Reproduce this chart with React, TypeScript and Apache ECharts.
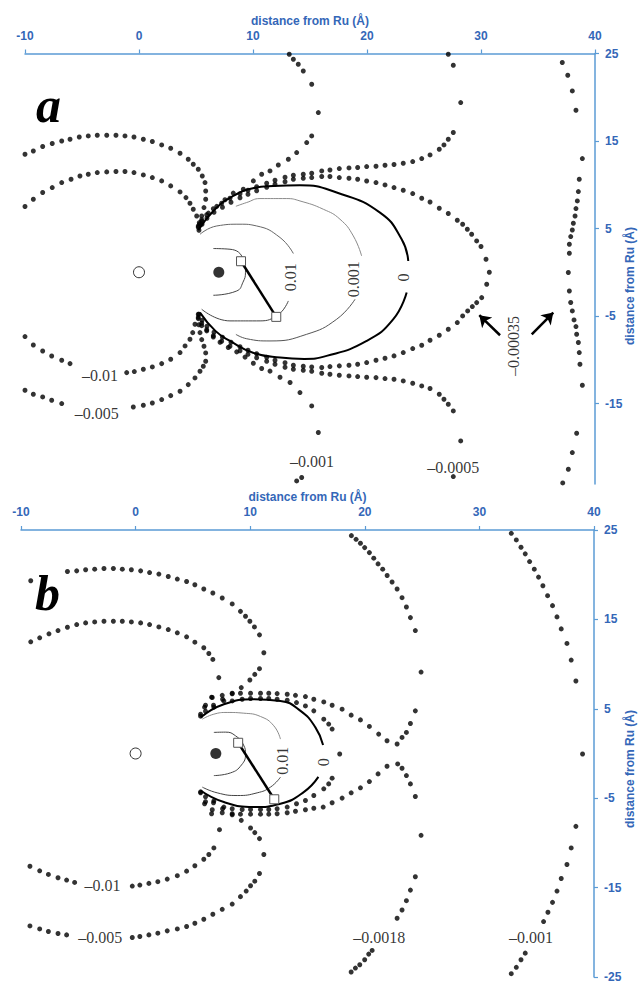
import React, { useEffect, useRef } from "react";
import * as echarts from "echarts";

// ---------- axes ----------
const X_TICKS = [-10, 0, 10, 20, 30, 40];
const Y_TICKS_A = [25, 15, 5, -5, -15];
const Y_TICKS_B = [25, 15, 5, -5, -15, -25];
const AXIS_NAME = "distance from Ru (Å)";

// ---------- panel a : atoms and bond ----------
const aRu = [[0, 0]];
const aAtom = [[7, 0]];
const aBond = [[8.95, 1.26], [12.04, -5.1]];

// ---------- panel a : solid contours ----------
const aC0Top = [[5.2, 4.8], [6.67, 7.2], [8.27, 8.72], [10.0, 9.6], [11.78, 9.86], [14.12, 9.94], [17.34, 9.11], [21.14, 6.82], [23.04, 3.77], [23.62, 1.29]];
const aC0Bottom = [[23.48, -2.32], [22.31, -5.37], [19.97, -7.85], [16.46, -9.56], [14.5, -9.9], [12.37, -9.75], [10.0, -9.2], [7.98, -7.85], [6.7, -6.7], [5.35, -4.61]];
const aC0001Top = [[8.5, 7.54], [9.45, 7.97], [10.61, 8.42], [12.96, 8.42], [14.12, 8.15], [16.17, 7.2], [17.63, 6.06], [18.8, 4.15], [19.53, 1.86]];
const aC0001Bottom = [[18.95, -3.09], [17.34, -5.37], [14.71, -7.09], [11.49, -7.85], [9.45, -7.6], [8.5, -7.1]];
const aC001Top = [[5.35, 4.34], [6.82, 5.29], [8.86, 5.49], [10.32, 5.29], [12.37, 3.97], [13.54, 2.14]];
const aC001Bottom = [[13.1, -3.28], [12.08, -4.99], [10.32, -5.56], [7.98, -5.56], [5.5, -4.23]];
const aCInner = [[6.52, 2.71], [7.98, 2.63], [9.15, 1.49], [9.34, 0], [9.12, -1.14], [8.57, -2.14], [6.52, -2.63]];

// ---------- panel a : dotted contours ----------
const aN005Up = [[-10.0, 13.49], [-9.27, 13.86], [-8.45, 14.37], [-7.61, 14.71], [-6.78, 15.0], [-6.05, 15.2], [-5.24, 15.46], [-4.45, 15.58], [-3.66, 15.66], [-2.83, 15.66], [-2.02, 15.66], [-1.23, 15.58], [-0.44, 15.46], [0.38, 15.2], [1.17, 14.94], [1.99, 14.55], [2.78, 14.17], [3.6, 13.6], [4.32, 12.91], [4.76, 12.34], [5.2, 11.77], [5.55, 11.0], [5.79, 10.25], [5.85, 9.29], [5.85, 8.34], [5.7, 7.39], [5.5, 6.43], [5.3, 5.5]];
const aN005Down = [[-10.0, -13.49], [-9.27, -13.94], [-8.45, -14.25], [-7.66, -14.63], [-6.78, -15.01], [-0.5, -15.4], [0.38, -15.2], [1.17, -14.94], [1.99, -14.55], [2.78, -14.1], [3.6, -13.6], [4.32, -12.84], [4.91, -12.08], [5.35, -11.31], [5.64, -10.74], [5.85, -10.17], [5.85, -9.22], [5.7, -8.46], [5.5, -7.7], [5.35, -6.9], [5.25, -6.0]];
const aN01Up = [[-10.0, 7.51], [-9.27, 8.34], [-8.45, 9.11], [-7.61, 9.68], [-6.78, 10.25], [-5.96, 10.63], [-5.18, 11.0], [-4.45, 11.2], [-3.66, 11.39], [-2.83, 11.47], [-2.02, 11.51], [-1.23, 11.51], [-0.44, 11.39], [0.38, 11.12], [1.17, 10.82], [1.99, 10.44], [2.78, 9.87], [3.6, 9.18], [4.12, 8.53], [4.47, 7.89], [4.76, 7.2], [5.06, 6.43], [5.29, 5.68]];
const aN01Down = [[-10.0, -7.35], [-9.27, -8.31], [-8.45, -9.0], [-7.66, -9.57], [-6.78, -10.06], [-6.05, -10.44], [-1.08, -11.47], [-0.41, -11.35], [0.38, -11.09], [1.17, -10.82], [1.99, -10.44], [2.78, -9.94], [3.6, -9.18], [4.04, -8.42], [4.47, -7.66], [4.71, -6.9], [4.91, -5.94], [5.2, -4.8]];
const aN001Up = [[13.18, 24.91], [13.54, 24.34], [13.97, 23.77], [14.41, 23.0], [15.15, 21.49], [15.73, 18.25], [15.15, 15.58], [14.71, 14.82], [13.83, 13.68], [13.1, 12.91], [12.22, 12.26], [11.49, 11.58], [10.76, 11.2], [10.03, 10.44], [9.15, 9.49], [8.27, 9.05], [7.54, 8.29], [6.82, 7.53], [6.09, 6.76], [5.5, 6.0], [5.2, 5.29]];
const aN001Down = [[5.2, -5.3], [5.5, -6.1], [5.94, -6.7], [6.52, -7.4], [7.11, -8.0], [7.83, -8.6], [8.57, -9.1], [9.3, -9.7], [10.03, -10.4], [10.76, -11.0], [11.49, -11.3], [12.37, -12.0], [13.25, -12.6], [14.12, -13.75], [15.15, -15.28], [15.73, -18.31], [14.27, -23.46], [13.83, -23.85]];
const aN0005Up = [[27.13, 24.91], [27.57, 23.66], [28.22, 19.39], [27.57, 15.97], [27.13, 15.2], [26.75, 14.55], [26.34, 14.06], [25.53, 13.41], [24.8, 12.99], [24.01, 12.65], [23.18, 12.46], [22.37, 12.31], [21.58, 12.23], [20.79, 12.11], [19.97, 12.08], [19.18, 11.97], [18.42, 11.92], [17.57, 11.85], [16.75, 11.69], [16.03, 11.58], [15.15, 11.31], [14.41, 11.2], [13.54, 11.09], [12.81, 10.86], [11.93, 10.51], [11.2, 10.17], [10.32, 9.77], [9.56, 9.37], [8.86, 8.97], [7.98, 8.46], [7.25, 7.89], [6.52, 7.26], [5.94, 6.57], [5.5, 5.83], [5.2, 5.14]];
const aN0005Down = [[27.57, -23.35], [28.22, -19.28], [27.57, -15.85], [27.13, -15.09], [26.75, -14.51], [26.34, -13.94], [25.53, -13.29], [24.8, -12.99], [24.01, -12.69], [23.18, -12.42], [22.37, -12.23], [21.58, -12.15], [20.79, -12.04], [19.97, -12.0], [19.18, -11.92], [18.42, -11.85], [17.57, -11.77], [16.75, -11.66], [16.03, -11.54], [15.15, -11.31], [14.41, -11.2], [13.54, -11.09], [12.81, -10.86], [11.93, -10.51], [11.2, -10.17], [10.32, -9.77], [9.56, -9.37], [8.86, -8.97], [7.98, -8.46], [7.25, -7.89], [6.52, -7.26], [5.94, -6.57], [5.5, -5.83], [5.2, -5.14]];
const aN00035Loop = [[5.26, 4.8], [5.53, 5.49], [5.96, 6.17], [6.58, 6.86], [7.32, 7.43], [8.07, 8.0], [8.86, 8.51], [9.56, 8.91], [10.32, 9.31], [11.2, 9.71], [11.93, 10.06], [12.81, 10.34], [13.54, 10.63], [14.41, 10.74], [15.15, 10.82], [16.03, 10.94], [16.75, 10.94], [17.57, 10.82], [18.42, 10.74], [19.18, 10.63], [19.97, 10.43], [20.79, 10.25], [21.58, 9.98], [22.37, 9.68], [23.18, 9.37], [24.01, 8.99], [24.8, 8.46], [25.53, 8.03], [26.34, 7.31], [27.13, 6.71], [27.92, 5.94], [28.39, 5.49], [28.8, 4.91], [29.18, 4.34], [29.62, 3.58], [30.0, 2.94], [30.44, 1.49], [30.73, 0], [30.5, -1.37], [30.06, -2.9], [29.62, -3.47], [29.24, -3.92], [28.83, -4.42], [28.39, -4.99], [27.92, -5.75], [27.13, -6.51], [26.34, -7.2], [25.53, -7.77], [24.8, -8.34], [24.01, -8.72], [23.18, -9.18], [22.37, -9.56], [21.58, -9.83], [20.79, -10.06], [19.97, -10.32], [19.18, -10.51], [18.42, -10.63], [17.57, -10.7], [16.75, -10.78], [16.03, -10.89], [15.15, -10.82], [14.41, -10.74], [13.54, -10.63], [12.81, -10.34], [11.93, -10.06], [11.2, -9.71], [10.32, -9.31], [9.56, -8.91], [8.86, -8.51], [8.07, -8.0], [7.32, -7.43], [6.58, -6.86], [5.96, -6.17], [5.53, -5.49], [5.26, -4.8]];
const aN00035Far = [[37.13, 23.97], [37.61, 22.51], [38.01, 20.72], [38.33, 18.51], [38.89, 12.99], [38.62, 10.63], [38.54, 9.22], [38.45, 8.15], [38.33, 7.28], [38.25, 6.43], [38.1, 5.6], [38.01, 4.83], [37.87, 4.08], [37.75, 3.2], [37.75, 2.17], [37.66, -0.03], [37.75, -2.14], [37.87, -3.46], [38.01, -4.42], [38.16, -5.45], [38.33, -6.21], [38.39, -7.09], [38.54, -8.03], [38.62, -9.18], [38.68, -10.51], [38.89, -12.91], [38.39, -18.4], [38.01, -20.61], [37.66, -22.51], [37.17, -24.08]];

// ---------- panel a : labels and arrows ----------
const aLabels = [
  { text: "–0.01", x: -3.42, y: -11.85, rotate: 0 },
  { text: "–0.005", x: -3.71, y: -16.15, rotate: 0 },
  { text: "–0.001", x: 15.18, y: -21.6, rotate: 0 },
  { text: "–0.0005", x: 27.57, y: -22.32, rotate: 0 },
  { text: "–0.00035", x: 32.83, y: -8.42, rotate: 90 },
  { text: "0.01", x: 13.25, y: -0.57, rotate: 90 },
  { text: "0.001", x: 18.8, y: -0.8, rotate: 90 },
  { text: "0", x: 23.18, y: -0.61, rotate: 90 },
];
const aArrows = [
  { from: [31.67, -7.2], to: [29.85, -4.91] },
  { from: [34.45, -7.09], to: [36.34, -4.61] },
];

// ---------- panel b : atoms and bond ----------
const bRu = [[0, 0]];
const bAtom = [[7, 0]];
const bBond = [[8.95, 1.2], [12.1, -5.12]];

// ---------- panel b : solid contours ----------
const bC0Top = [[5.67, 4.03], [7.7, 5.51], [10.31, 6.07], [12.64, 5.88], [14.39, 4.77], [15.69, 2.92], [16.36, 0.95]];
const bC0Bottom = [[15.95, -2.62], [14.67, -4.32], [12.64, -5.62], [10.31, -5.99], [7.7, -5.43], [5.67, -4.14]];
const bC001Top = [[5.82, 3.84], [6.83, 4.4], [7.99, 4.59], [9.44, 4.51], [10.9, 4.14], [12.06, 3.1], [12.64, 1.61]];
const bC001Bottom = [[12.64, -2.65], [11.77, -3.76], [10.61, -4.4], [8.87, -4.7], [7.12, -4.4], [5.82, -3.76]];
const bCInner = [[6.83, 2.36], [7.85, 2.39], [8.72, 1.98], [9.42, 0.95], [9.59, -0.06], [9.24, -1.28], [8.28, -2.17], [6.83, -2.47]];

// ---------- panel b : dotted contours ----------
const bN005Up = [[-10.03, 18.88], [-9.15, 19.32], [-5.95, 20.36], [-5.14, 20.43], [-4.36, 20.55], [-3.57, 20.62], [-2.76, 20.69], [-1.94, 20.69], [-1.16, 20.62], [-0.37, 20.55], [0.44, 20.43], [1.22, 20.24], [2.03, 20.07], [2.85, 19.8], [3.64, 19.51], [4.45, 19.24], [5.17, 18.88], [5.95, 18.4], [6.74, 17.95], [7.56, 17.39], [8.43, 16.73], [9.15, 15.9], [9.59, 15.35], [9.97, 14.79], [10.37, 14.16], [10.81, 13.27], [11.19, 11.27], [10.81, 9.49], [10.4, 8.85], [9.97, 8.22], [9.22, 7.37], [8.43, 6.74], [7.59, 6.07], [6.8, 5.4], [6.1, 4.73], [5.67, 4.18]];
const bN005Down = [[-10.03, -18.8], [-9.22, -19.29], [-8.37, -19.62], [-7.61, -19.91], [-6.77, -20.13], [-6.02, -20.29], [-0.29, -20.58], [0.37, -20.47], [1.16, -20.29], [1.94, -20.1], [2.76, -19.84], [3.64, -19.62], [4.45, -19.35], [5.17, -18.99], [5.95, -18.54], [6.74, -17.98], [7.56, -17.43], [8.43, -16.84], [9.15, -16.01], [9.65, -15.39], [10.03, -14.79], [10.4, -14.28], [10.81, -13.42], [11.19, -11.3], [10.81, -9.52], [10.4, -8.85], [10.03, -8.33], [9.22, -7.48], [8.43, -6.85], [7.59, -6.18], [6.8, -5.51], [6.1, -4.84], [5.67, -4.29]];
const bN01Up = [[-10.03, 12.0], [-9.15, 12.49], [-8.37, 12.94], [-7.56, 13.39], [-6.77, 13.75], [-5.95, 14.12], [-5.14, 14.42], [-4.36, 14.61], [-3.57, 14.72], [-2.76, 14.79], [-1.94, 14.79], [-1.16, 14.79], [-0.37, 14.72], [0.44, 14.61], [1.22, 14.42], [2.03, 14.16], [2.85, 13.86], [3.64, 13.5], [4.45, 13.05], [5.17, 12.45], [5.95, 11.83], [6.39, 11.19], [6.74, 10.52], [7.26, 8.49], [6.63, 6.3], [6.02, 5.18]];
const bN01Down = [[-10.03, -12.05], [-9.22, -12.61], [-8.37, -13.12], [-7.61, -13.53], [-6.77, -13.9], [-6.02, -14.16], [-5.32, -14.42], [-0.29, -14.83], [0.37, -14.72], [1.16, -14.53], [1.94, -14.34], [2.76, -14.05], [3.64, -13.67], [4.45, -13.16], [5.17, -12.56], [5.95, -11.83], [6.39, -11.3], [6.83, -10.56], [7.32, -8.52], [6.63, -6.74], [6.02, -5.62]];
const bN0018Left = [[5.67, 4.4], [6.1, 5.4], [6.69, 6.26], [7.56, 6.51], [8.43, 6.68], [9.15, 6.74], [10.03, 6.74], [10.9, 6.74], [11.62, 6.74], [12.35, 6.7], [13.23, 6.63], [13.95, 6.51], [14.82, 6.37], [15.55, 6.07], [16.42, 5.77], [17.15, 5.4], [18.02, 4.96], [18.81, 4.29], [19.62, 3.76], [20.4, 3.03], [21.21, 2.17], [21.94, 1.43], [21.94, -1.43], [21.16, -2.28], [20.4, -3.14], [19.62, -3.84], [18.81, -4.4], [18.02, -4.99], [17.15, -5.51], [16.37, -5.99], [15.55, -6.12], [14.82, -6.29], [13.95, -6.46], [13.23, -6.63], [12.35, -6.74], [11.62, -6.79], [10.9, -6.79], [10.03, -6.79], [9.15, -6.79], [8.43, -6.74], [7.56, -6.63], [6.69, -6.29], [6.1, -5.4], [5.67, -4.4]];
const bN0018Right = [[18.83, 24.37], [19.24, 23.96], [19.62, 23.52], [19.99, 23.03], [20.4, 22.47], [20.78, 21.85], [21.16, 21.21], [21.56, 20.62], [21.95, 19.91], [22.38, 19.18], [22.82, 18.4], [23.25, 17.43], [23.63, 16.39], [23.98, 15.2], [24.41, 13.75], [24.91, 9.11], [24.41, 4.77], [23.98, 3.36], [23.63, 2.36], [23.25, 1.8], [22.82, 1.06], [22.87, -1.17], [23.25, -1.65], [23.63, -2.47], [23.98, -3.4], [24.41, -4.81], [24.91, -9.15], [24.41, -13.79], [23.98, -15.28], [23.63, -16.46], [23.25, -17.51], [22.82, -18.43], [20.64, -22.03], [20.34, -22.44], [19.99, -23.07], [19.56, -23.63], [19.18, -24.0], [18.81, -24.44]];
const bInnerLoop = [[6.83, 5.18], [7.7, 5.88], [8.43, 5.88], [9.3, 6.07], [10.03, 6.15], [10.9, 6.15], [11.62, 6.15], [12.35, 6.07], [13.23, 5.96], [14.04, 5.7], [14.82, 5.32], [15.55, 4.77], [16.42, 3.84], [16.85, 3.29], [17.15, 2.73], [17.81, -0.06], [17.15, -2.76], [16.85, -3.4], [16.42, -3.95], [15.55, -4.7], [14.82, -5.26], [14.04, -5.62], [13.23, -5.99], [12.35, -6.18], [11.62, -6.26], [10.9, -6.26], [10.03, -6.26], [9.3, -6.26], [8.43, -6.18], [7.7, -5.99], [6.83, -5.29]];
const bN001Far = [[32.78, 24.63], [33.22, 23.89], [33.63, 23.07], [34.0, 22.33], [34.38, 21.47], [34.79, 20.62], [35.16, 19.73], [35.54, 18.76], [35.95, 17.65], [36.38, 16.54], [36.77, 15.28], [37.14, 13.94], [37.64, 12.31], [38.01, 10.45], [38.42, 8.11], [39.0, -0.06], [38.42, -8.15], [38.01, -10.56], [37.64, -12.42], [37.14, -13.98], [36.77, -15.39], [36.38, -16.65], [35.98, -17.76], [35.6, -18.8], [34.0, -22.33], [33.63, -23.07], [33.22, -23.92], [32.78, -24.63]];

// ---------- panel b : labels ----------
const bLabels = [
  { text: "–0.01", x: -2.88, y: -14.72, rotate: 0 },
  { text: "–0.005", x: -3.08, y: -20.58, rotate: 0 },
  { text: "–0.0018", x: 21.26, y: -20.58, rotate: 0 },
  { text: "–0.001", x: 34.51, y: -20.58, rotate: 0 },
  { text: "0.01", x: 12.79, y: -0.8, rotate: 90 },
  { text: "0", x: 16.42, y: -0.98, rotate: 90 },
];

const BLUE_TEXT = "#3467b8";
const BLUE_LINE = "#5b9bd5";
const SERIF = '"Liberation Serif", "Times New Roman", serif';
const SANS = '"Liberation Sans", Arial, sans-serif';

function dots(data: number[][], g: number) {
  return {
    type: "scatter",
    xAxisIndex: g,
    yAxisIndex: g,
    data,
    symbol: "circle",
    symbolSize: 5,
    itemStyle: { color: "#000" },
    silent: true,
    z: 3,
  };
}

function curve(data: number[][], g: number, color: string, width: number) {
  return {
    type: "line",
    xAxisIndex: g,
    yAxisIndex: g,
    data,
    smooth: 0.5,
    symbol: "none",
    showSymbol: false,
    lineStyle: { color, width },
    silent: true,
    z: 2,
  };
}

function labels(list: { text: string; x: number; y: number; rotate: number }[], g: number) {
  return {
    type: "scatter",
    xAxisIndex: g,
    yAxisIndex: g,
    symbolSize: 0,
    silent: true,
    z: 5,
    data: list.map((l) => ({ value: [l.x, l.y], name: l.text, label: { rotate: l.rotate } })),
    label: {
      show: true,
      position: "inside",
      formatter: "{b}",
      fontFamily: SERIF,
      fontSize: 16,
      color: "#000",
    },
  };
}

function atoms(ru: number[][], atom: number[][], g: number) {
  return [
    {
      type: "scatter",
      xAxisIndex: g,
      yAxisIndex: g,
      data: ru,
      symbolSize: 11,
      itemStyle: { color: "#fff", borderColor: "#000", borderWidth: 1 },
      silent: true,
      z: 4,
    },
    {
      type: "scatter",
      xAxisIndex: g,
      yAxisIndex: g,
      data: atom,
      symbolSize: 11,
      itemStyle: { color: "#000" },
      silent: true,
      z: 4,
    },
  ];
}

function bond(data: number[][], g: number) {
  return {
    type: "line",
    xAxisIndex: g,
    yAxisIndex: g,
    data,
    symbol: "rect",
    symbolSize: 9,
    showSymbol: true,
    itemStyle: { color: "#fff", borderColor: "#555", borderWidth: 1 },
    lineStyle: { color: "#000", width: 2.5 },
    silent: true,
    z: 4,
  };
}

function xAxis(g: number) {
  return {
    gridIndex: g,
    type: "value",
    position: "top",
    min: -10,
    max: 40,
    interval: 10,
    name: AXIS_NAME,
    nameLocation: "middle",
    nameGap: 27,
    nameTextStyle: { color: BLUE_TEXT, fontSize: 12, fontWeight: "bold", fontFamily: SANS },
    axisLine: { show: true, onZero: false, lineStyle: { color: BLUE_LINE, width: 1.5 } },
    axisTick: { show: true, length: 4, lineStyle: { color: BLUE_LINE, width: 1.2 } },
    axisLabel: { color: BLUE_TEXT, fontSize: 12, fontWeight: "bold", fontFamily: SANS, margin: 12, customValues: X_TICKS },
    splitLine: { show: false },
  };
}

function yAxis(g: number, min: number, ticks: number[]) {
  return {
    gridIndex: g,
    type: "value",
    position: "right",
    min,
    max: 25,
    axisLine: { show: true, onZero: false, lineStyle: { color: BLUE_LINE, width: 1.5 } },
    axisTick: { show: true, length: 4, lineStyle: { color: BLUE_LINE, width: 1.2 }, customValues: ticks },
    axisLabel: { color: BLUE_TEXT, fontSize: 12, lineHeight: 12, fontWeight: "bold", fontFamily: SANS, margin: 10, customValues: ticks },
    splitLine: { show: false },
  };
}

function sideName(x: number, y: number) {
  return {
    type: "text",
    x,
    y,
    rotation: Math.PI / 2,
    silent: true,
    style: {
      text: AXIS_NAME,
      font: `bold 12px ${SANS}`,
      fill: BLUE_TEXT,
      align: "center",
      verticalAlign: "middle",
    },
  };
}

export default function App() {
  const ref = useRef<HTMLDivElement>(null);
  useEffect(() => {
    if (!ref.current) return;
    const chart = echarts.init(ref.current, null, { renderer: "svg" });
    const series: any[] = [];
    // panel a
    series.push(curve(aC0Top, 0, "#000", 2), curve(aC0Bottom, 0, "#000", 2));
    series.push(curve(aC0001Top, 0, "#8a8a8a", 1), curve(aC0001Bottom, 0, "#555", 1));
    series.push(curve(aC001Top, 0, "#666", 1), curve(aC001Bottom, 0, "#444", 1));
    series.push(curve(aCInner, 0, "#444", 1));
    [aN005Up, aN005Down, aN01Up, aN01Down, aN001Up, aN001Down, aN0005Up, aN0005Down, aN00035Loop, aN00035Far].forEach((d) => series.push(dots(d, 0)));
    series.push(...atoms(aRu, aAtom, 0), bond(aBond, 0), labels(aLabels, 0));
    series.push({
      type: "lines",
      coordinateSystem: "cartesian2d",
      xAxisIndex: 0,
      yAxisIndex: 0,
      data: aArrows.map((a) => ({ coords: [a.from, a.to] })),
      symbol: ["none", "arrow"],
      symbolSize: [0, 11],
      lineStyle: { color: "#000", width: 2.5, opacity: 1 },
      silent: true,
      z: 5,
    });
    // panel b
    series.push(curve(bC0Top, 1, "#000", 2), curve(bC0Bottom, 1, "#000", 2));
    series.push(curve(bC001Top, 1, "#8a8a8a", 1), curve(bC001Bottom, 1, "#444", 1));
    series.push(curve(bCInner, 1, "#444", 1));
    [bN005Up, bN005Down, bN01Up, bN01Down, bN0018Left, bN0018Right, bInnerLoop, bN001Far].forEach((d) => series.push(dots(d, 1)));
    series.push(...atoms(bRu, bAtom, 1), bond(bBond, 1), labels(bLabels, 1));

    chart.setOption({
      animation: false,
      backgroundColor: "#fff",
      grid: [
        { left: 25, top: 53.5, width: 570, height: 430.5, containLabel: false, outerBoundsMode: "none" },
        { left: 21, top: 530, width: 573, height: 447, containLabel: false, outerBoundsMode: "none" },
      ],
      xAxis: [xAxis(0), xAxis(1)],
      yAxis: [yAxis(0, -24.2, Y_TICKS_A), yAxis(1, -25, Y_TICKS_B)],
      graphic: [
        { type: "text", left: 36, top: 80, style: { text: "a", font: `italic bold 50px ${SERIF}`, fill: "#000" } },
        { type: "text", left: 35, top: 568, style: { text: "b", font: `italic bold 50px ${SERIF}`, fill: "#000" } },
        sideName(630, 286),
        sideName(630, 769),
      ],
      series,
    });
    return () => chart.dispose();
  }, []);
  return <div ref={ref} style={{ position: "absolute", left: 0, top: 0, width: 639, height: 984 }} />;
}
